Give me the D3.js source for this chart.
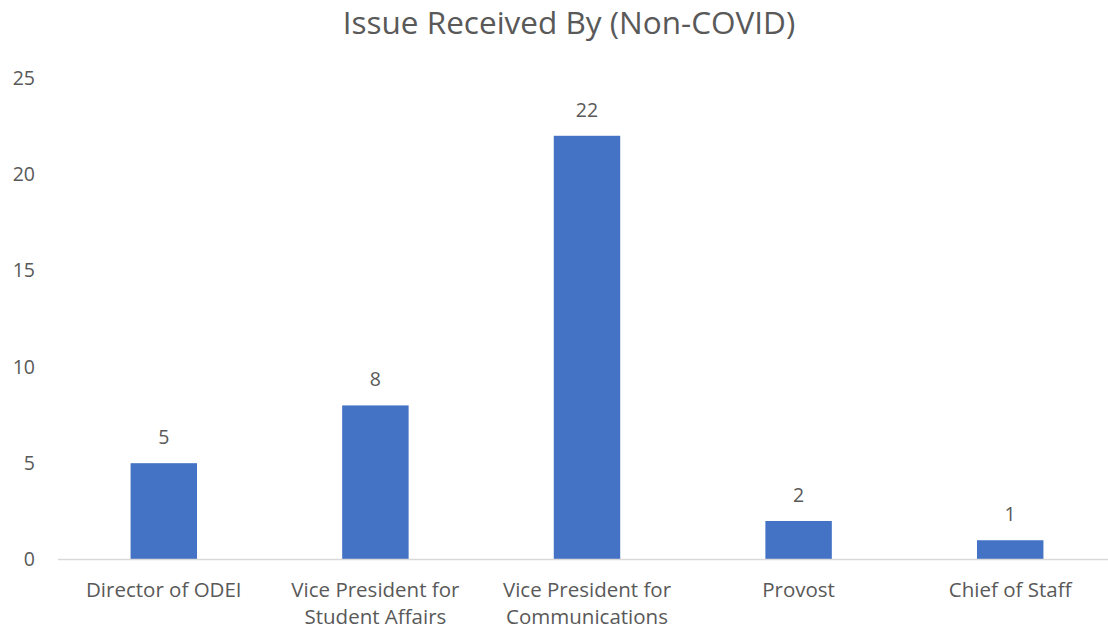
<!DOCTYPE html>
<html>
<head>
<meta charset="utf-8">
<script src="https://cdn.jsdelivr.net/npm/d3@7"></script>
<style>
  body { margin: 0; background: #fff; }
  svg text { font-family: "Open Sans", "Noto Sans", sans-serif; fill: #595959; }
</style>
</head>
<body>
<svg id="chart" width="1108" height="630"></svg>
<script>
// Data
const categories = [
  ["Director of ODEI"],
  ["Vice President for", "Student Affairs"],
  ["Vice President for", "Communications"],
  ["Provost"],
  ["Chief of Staff"]
];
const values = [5, 8, 22, 2, 1];
const yTicks = [0, 5, 10, 15, 20, 25];
const title = "Issue Received By (Non-COVID)";

const svg = d3.select("#chart");

const plotLeft = 58, plotRight = 1116, plotTop = 78, plotBottom = 559.5;

const x = d3.scaleBand()
  .domain(d3.range(values.length))
  .range([plotLeft, plotRight])
  .paddingInner(0.686)
  .paddingOuter(0.343);

const y = d3.scaleLinear()
  .domain([0, 25])
  .range([plotBottom, plotTop]);

// title
svg.append("text")
  .attr("x", 569)
  .attr("y", 34)
  .attr("text-anchor", "middle")
  .style("font-size", "31.5px")
  .text(title);

// y tick labels
svg.append("g")
  .selectAll("text")
  .data(yTicks)
  .enter()
  .append("text")
  .attr("x", 35)
  .attr("y", d => y(d))
  .attr("dy", "0.35em")
  .attr("text-anchor", "end")
  .style("font-size", "19.5px")
  .text(d => d);

// bars
svg.append("g")
  .selectAll("rect")
  .data(values)
  .enter()
  .append("rect")
  .attr("x", (d, i) => x(i))
  .attr("y", d => y(d))
  .attr("width", x.bandwidth())
  .attr("height", d => y(0) - y(d))
  .attr("fill", "#4472C4");

// baseline
svg.append("line")
  .attr("x1", plotLeft)
  .attr("x2", plotRight)
  .attr("y1", y(0))
  .attr("y2", y(0))
  .attr("stroke", "#d9d9d9")
  .attr("stroke-width", 1.5);

// value labels
svg.append("g")
  .selectAll("text")
  .data(values)
  .enter()
  .append("text")
  .attr("x", (d, i) => x(i) + x.bandwidth() / 2)
  .attr("y", d => y(d) - 19)
  .attr("text-anchor", "middle")
  .style("font-size", "19.5px")
  .text(d => d);

// category labels
const cat = svg.append("g")
  .selectAll("text")
  .data(categories)
  .enter()
  .append("text")
  .attr("x", (d, i) => x(i) + x.bandwidth() / 2)
  .attr("y", 597)
  .attr("text-anchor", "middle")
  .style("font-size", "20.5px");

cat.selectAll("tspan")
  .data(d => d)
  .enter()
  .append("tspan")
  .attr("x", function() { return d3.select(this.parentNode).attr("x"); })
  .attr("dy", (d, i) => i === 0 ? 0 : 26.5)
  .text(d => d);
</script>
</body>
</html>
